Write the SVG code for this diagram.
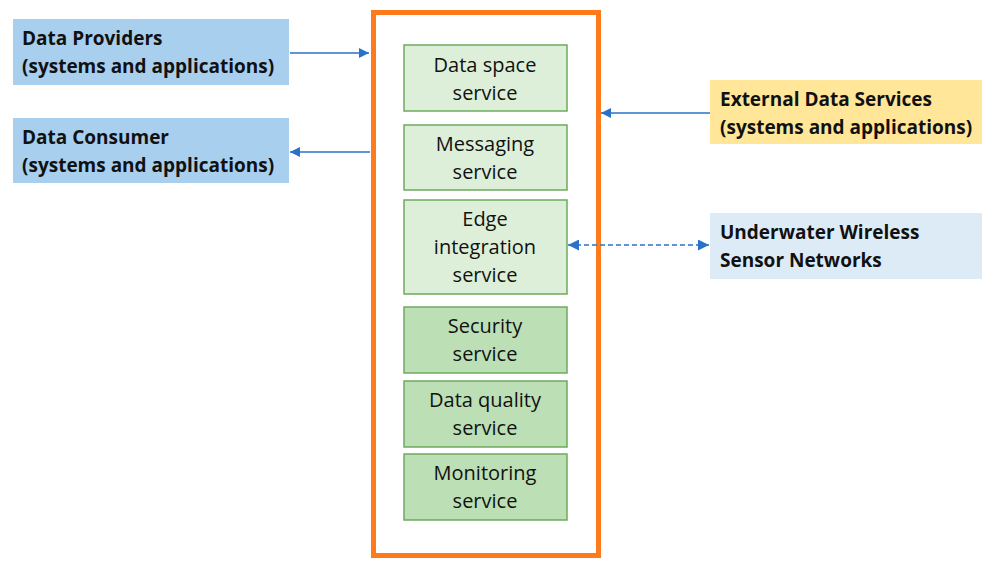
<svg xmlns="http://www.w3.org/2000/svg" width="982" height="561" viewBox="0 0 982 561">
<defs>
<style>
.ext{font-family:"Open Sans","Liberation Sans",sans-serif;font-weight:bold;font-size:19px;fill:#111}
.svc{font-family:"Open Sans","Liberation Sans",sans-serif;font-size:20px;fill:#111;text-anchor:middle}
.l{fill:#DDEFD8;stroke:#6DAA5E;stroke-width:1.5}
.d{fill:#BCDFB5;stroke:#6DAA5E;stroke-width:1.5}
.con{stroke:#2A72C9;stroke-width:1.5;fill:none}
</style>
<marker id="ah" viewBox="0 0 10 10" refX="10" refY="5" markerWidth="11" markerHeight="10" markerUnits="userSpaceOnUse" orient="auto-start-reverse"><path d="M0,0 L10,5 L0,10 z" fill="#2A72C9"/></marker>
<marker id="ah2" viewBox="0 0 10 10" refX="10" refY="5" markerWidth="11" markerHeight="11" markerUnits="userSpaceOnUse" orient="auto-start-reverse"><path d="M0,0 L10,5 L0,10 z" fill="#2A72C9"/></marker>
</defs>
<rect width="982" height="561" fill="#fff"/>
<g id="platform"><rect x="373.5" y="12.5" width="225" height="543" fill="none" stroke="#FF7A1A" stroke-width="5"/></g>
<g id="providers"><rect x="13" y="19" width="276" height="66" fill="#A8CFEE"/><text class="ext" x="22" y="45">Data Providers</text><text class="ext" x="22" y="73">(systems and applications)</text></g>
<g id="consumer"><rect x="13" y="118" width="276" height="65" fill="#A8CFEE"/><text class="ext" x="22" y="144">Data Consumer</text><text class="ext" x="22" y="172">(systems and applications)</text></g>
<g id="external"><rect x="710" y="80" width="272" height="64" fill="#FFE699"/><text class="ext" x="720" y="106">External Data Services</text><text class="ext" x="720" y="134">(systems and applications)</text></g>
<g id="uwsn"><rect x="710" y="213" width="272" height="66" fill="#DDEBF7"/><text class="ext" x="720" y="239">Underwater Wireless</text><text class="ext" x="720" y="267">Sensor Networks</text></g>
<g id="dataspace"><rect class="l" x="404" y="45" width="163" height="66"/><text class="svc" x="485" y="72">Data space</text><text class="svc" x="485" y="100">service</text></g>
<g id="messaging"><rect class="l" x="404" y="125" width="163" height="65"/><text class="svc" x="485" y="151">Messaging</text><text class="svc" x="485" y="179">service</text></g>
<g id="edge"><rect class="l" x="404" y="200" width="163" height="94"/><text class="svc" x="485" y="226">Edge</text><text class="svc" x="485" y="254">integration</text><text class="svc" x="485" y="282">service</text></g>
<g id="security"><rect class="d" x="404" y="307" width="163" height="66"/><text class="svc" x="485" y="333">Security</text><text class="svc" x="485" y="361">service</text></g>
<g id="quality"><rect class="d" x="404" y="381" width="163" height="66"/><text class="svc" x="485" y="407">Data quality</text><text class="svc" x="485" y="435">service</text></g>
<g id="monitoring"><rect class="d" x="404" y="454" width="163" height="66"/><text class="svc" x="485" y="480">Monitoring</text><text class="svc" x="485" y="508">service</text></g>
<g id="connectors">
<line class="con" x1="290" y1="53" x2="369" y2="53" marker-end="url(#ah)"/>
<line class="con" x1="370" y1="152" x2="290" y2="152" marker-end="url(#ah)"/>
<line class="con" x1="710" y1="113" x2="601" y2="113" marker-end="url(#ah)"/>
<line class="con" x1="568" y1="245" x2="709" y2="245" stroke-dasharray="5,3" stroke-width="2" marker-start="url(#ah2)" marker-end="url(#ah2)"/>
</g>
</svg>
